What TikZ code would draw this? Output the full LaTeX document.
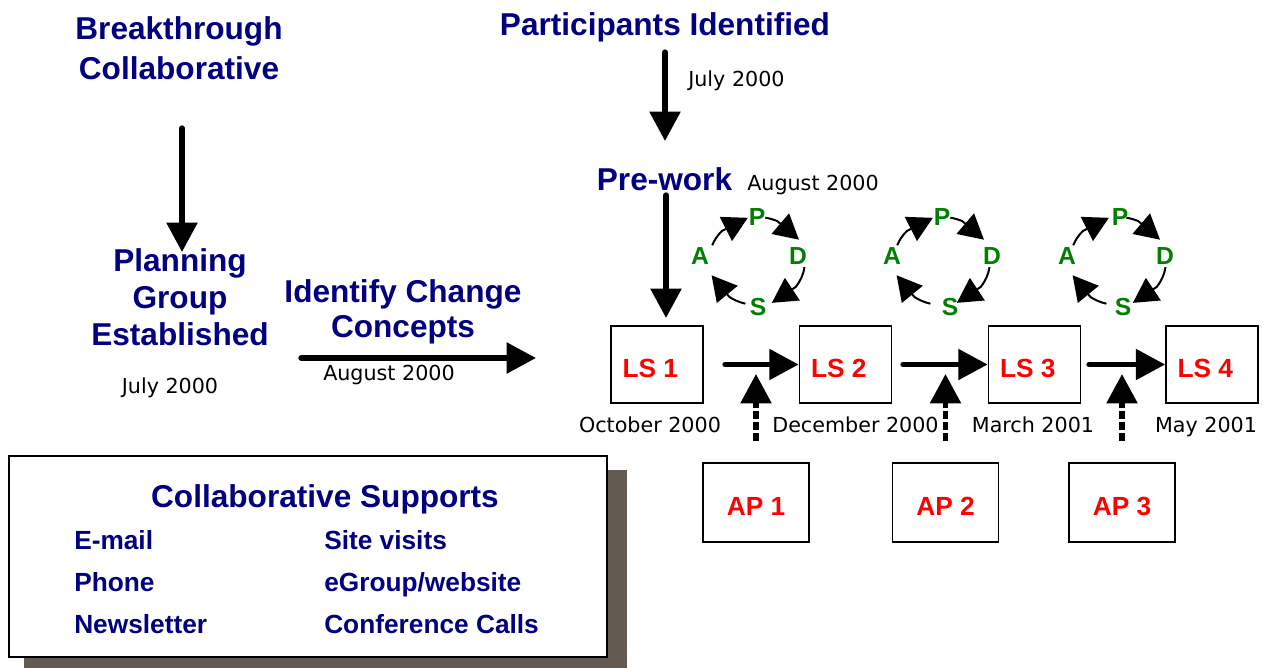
\documentclass[tikz,border=0pt]{standalone}
\usepackage{fontspec}
\setmainfont{Liberation Sans}
\newfontfamily\datefont{DejaVu Sans}
\usetikzlibrary{arrows.meta,calc}
\definecolor{navy}{RGB}{0,0,128}
\definecolor{pdsagreen}{RGB}{0,128,0}
\definecolor{shadowgray}{RGB}{99,91,82}
\definecolor{lsred}{RGB}{255,0,0}

\begin{document}
\begin{tikzpicture}[x=0.75pt,y=-0.75pt,
  stage/.style={font=\bfseries\fontsize{23.7}{27.4}\selectfont, text=navy, align=center, inner sep=0pt},
  when/.style={font=\datefont\fontsize{15.5}{18}\selectfont, inner sep=0pt},
  support/.style={font=\bfseries\fontsize{19.7}{24}\selectfont, text=navy, inner sep=0pt},
  lsbox/.style={draw, line width=1.3pt, minimum width=69pt, minimum height=57.75pt, inner sep=0pt,
    text=lsred, font=\bfseries\fontsize{19.7}{24}\selectfont, text height=18.75pt, text depth=0pt},
  apbox/.style={lsbox, minimum width=79.5pt, minimum height=59.25pt},
  pdsa/.style={font=\bfseries\fontsize{18.5}{20}\selectfont, text=pdsagreen, inner sep=0pt},
  bigarrow/.style={line width=4pt, line cap=round, -{Triangle[length=22pt,width=22.5pt]}},
  linkarrow/.style={line width=4pt, line cap=butt, dash pattern=on 6pt off 2.2pt, -{Triangle[length=22pt,width=22.5pt]}},
  cyc/.style={line width=1.5pt, -{Triangle[length=18.5pt,width=20pt]}},
]
% canvas
\fill[white] (0,0) rectangle (1264,668);
\useasboundingbox (0,0) rectangle (1264,668);

% left column of stages (base anchor = baseline of the last line)
\node[stage, anchor=base, font=\bfseries\fontsize{23.7}{30}\selectfont] (bc) at (179,79) {Breakthrough\\Collaborative};
\node[stage, anchor=base] (pge) at (180,345) {Planning\\Group\\Established};
\node[when, anchor=base] (d2) at (170,393) {July 2000};
\node[stage, anchor=base, font=\bfseries\fontsize{23.7}{26.25}\selectfont] (icc) at (403,337) {Identify Change\\Concepts};
\node[when, anchor=base] (d3) at (389,380) {August 2000};

% upper stages
\node[stage, anchor=base] (pi) at (665,35) {Participants Identified};
\node[when, anchor=base west] (d0) at (688,86) {July 2000};
\node[stage, anchor=base] (pw) at (664.5,190) {Pre-work};
\node[when, anchor=base west] (d1) at (747,190) {August 2000};

% learning sessions
\node[lsbox] (ls1) at (657,364.5) {LS 1\kern10pt};
\node[lsbox] (ls2) at (845.5,364.5) {LS 2\kern10pt};
\node[lsbox] (ls3) at (1034.5,364.5) {LS 3\kern10pt};
\node[lsbox] (ls4) at (1212,364.5) {LS 4\kern10pt};
\node[when, anchor=base] (t1) at (650,432) {October 2000};
\node[when, anchor=base] (t2) at (855.5,432) {December 2000};
\node[when, anchor=base] (t3) at (1033,432) {March 2001};
\node[when, anchor=base] (t4) at (1206,432) {May 2001};

% action periods
\node[apbox] (ap1) at (756,502.5) {AP 1};
\node[apbox] (ap2) at (945.5,502.5) {AP 2};
\node[apbox] (ap3) at (1122,502.5) {AP 3};

% main flow arrows
\coordinate (bcTail) at (182,128);  \coordinate (pgeTip) at (182,252);
\coordinate (iccTail) at (301,358); \coordinate (iccTip) at (536,358);
\coordinate (piTail) at (665,52);   \coordinate (pwTip) at (665,141);
\coordinate (pwTail) at (666,195);  \coordinate (lsTip) at (666,318);
\draw[bigarrow] (bcTail) -- (pgeTip);
\draw[bigarrow] (iccTail) -- (iccTip);
\draw[bigarrow] (piTail) -- (pwTip);
\draw[bigarrow] (pwTail) -- (lsTip);

\coordinate (r1) at (725,364.5);
\coordinate (r2) at (903,364.5);
\coordinate (r3) at (1089,364.5);
\draw[bigarrow] (r1) -- (ls2.west);
\draw[bigarrow] (r2) -- (ls3.west);
\draw[bigarrow] (r3) -- (ls4.west);

% action periods feed the next session
\foreach \a in {ap1,ap2,ap3}
  \draw[linkarrow] ([yshift=16pt]\a.north) -- (\a.north |- 0,374);

% PDSA cycles: each quarter is an arc finished by a straight arrowhead
\foreach \ex/\px/\ax/\dx/\sx [count=\i] in {757/757/700/798/758, 942/942/892/992/950, 1118/1120/1067/1165/1123} {
  \node[pdsa] (p\i) at (\px,217) {P};
  \node[pdsa] (d\i) at (\dx,256) {D};
  \node[pdsa] (s\i) at (\sx,307) {S};
  \node[pdsa] (a\i) at (\ax,256) {A};
  \foreach \s/\m/\e in {-159/-137/-101, -80/-65/-29, 8/36/72, 104/125/161}
    \draw[cyc] (\ex,261) ++(\s:48 and 44)
      arc[start angle=\s, end angle=\m, x radius=48, y radius=44]
      -- ($(\ex,261)+(\e:48 and 44)$);
}

% supports panel with its shadow
\fill[shadowgray] (24,470) rectangle (627,668);
\node[draw, line width=1.5pt, fill=white, minimum width=448.5pt, minimum height=150.75pt, inner sep=0pt] (sup) at (308,556.5) {};
\node[stage, anchor=base] (supt) at (325,507) {Collaborative Supports};
\node[support, anchor=base west] (s11) at (74,549) {E-mail};
\node[support, anchor=base west] (s12) at (74,591) {Phone};
\node[support, anchor=base west] (s13) at (74,633) {Newsletter};
\node[support, anchor=base west] (s21) at (324,549) {Site visits};
\node[support, anchor=base west] (s22) at (324,591) {eGroup/website};
\node[support, anchor=base west] (s23) at (324,633) {Conference Calls};
\end{tikzpicture}
\end{document}
